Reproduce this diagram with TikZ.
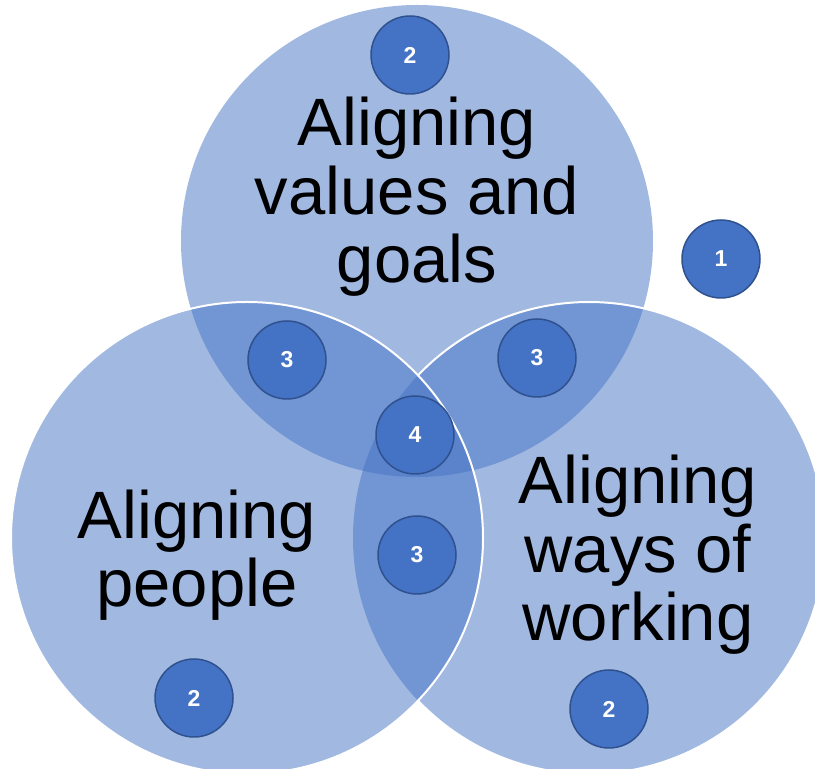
\documentclass[tikz,border=0pt]{standalone}
\usepackage{fontspec}
\setmainfont{Liberation Sans}
\definecolor{venn}{HTML}{4472C4}
\definecolor{vennline}{HTML}{2F528F}
\begin{document}
\begin{tikzpicture}[x=1pt,y=1pt,
    badge/.style={circle,fill=venn,draw=vennline,line width=1.5pt,
      minimum size=78pt,inner sep=0pt,text=white,
      font=\fontsize{23}{23}\selectfont\bfseries},
    biglabel/.style={align=center,inner sep=0pt,anchor=base,
      font=\fontsize{67}{68.5}\selectfont}]
    \useasboundingbox (0,0) rectangle (815,769);
    \coordinate (values) at (417,528);
    \coordinate (people) at (247,231);
    \coordinate (ways) at (589,231);
    % the three sets
    \fill[venn,fill opacity=0.5] (values) circle (236pt);
    \fill[venn,fill opacity=0.5] (ways) circle (236pt);
    \fill[venn,fill opacity=0.5] (people) circle (236pt);
    \draw[white,line width=2pt] (ways) ++(136.4:236pt)
      arc[start angle=136.4,end angle=-136.4,radius=236pt];
    \draw[white,line width=2pt] (people) circle (236pt);
    % labels (anchored on the baseline of the last line)
    \node[biglabel] (valuestext) at (417,486) {Aligning\\values and\\goals};
    \node[biglabel] (peopletext) at (197,162) {Aligning\\people};
    \node[biglabel] (waystext) at (638,128) {Aligning\\ways of\\working};
    % numbered badges
    \node[badge] (outside) at (721,510) {1};
    \node[badge] (valuesonly) at (410,714) {2};
    \node[badge] (peopleonly) at (194,71) {2};
    \node[badge] (waysonly) at (609,60) {2};
    \node[badge] (valuespeople) at (287,409) {3};
    \node[badge] (valuesways) at (537,411) {3};
    \node[badge] (peopleways) at (417,214) {3};
    \node[badge] (allthree) at (415,334) {4};
  \end{tikzpicture}
\end{document}
